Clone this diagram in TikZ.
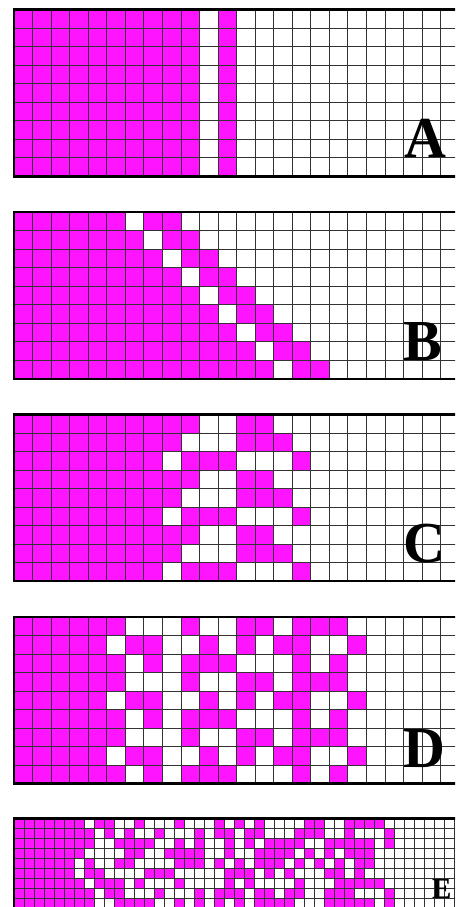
\documentclass[tikz,border=0pt]{standalone}
\usepackage{fontspec}
\setmainfont{Liberation Serif}
\definecolor{mag}{RGB}{255,20,255}
\tikzset{
  cellfill/.style={fill=mag},
  gl/.style={line width=0.9pt, draw=black!80},
  framebox/.style={line width=2.6pt, draw=black, line cap=butt},
  lettr/.style={inner sep=0pt, anchor=base west, font=\bfseries\fontsize{58}{58}\selectfont},
  lettrsmall/.style={inner sep=0pt, anchor=base west, font=\bfseries\fontsize{29}{29}\selectfont},
}
\begin{document}
\begin{tikzpicture}[x=1pt,y=-1pt]
\useasboundingbox (0,0) rectangle (455,907);
\clip (0,0) rectangle (455,907);
\fill[white] (0,0) rectangle (455,907);

% ---------- Panel A ----------
\begin{scope}[shift={(14pt,-9.5pt)},x=18.55pt,y=-18.55pt]
  \fill[cellfill] (0,0) rectangle (10,9);
  \fill[cellfill] (11,0) rectangle (12,9);
  \foreach \i in {1,...,24} \draw[gl] (\i,0) -- (\i,9);
  \foreach \j in {1,...,8} \draw[gl] (0,\j) -- (25,\j);
  \draw[framebox] (25,0) -- (0,0) -- (0,9) -- (25,9);
\end{scope}

% ---------- Panel B ----------
\begin{scope}[shift={(14pt,-212pt)},x=18.55pt,y=-18.55pt]
  \foreach \r in {0,...,8} {
    \fill[cellfill] (0,\r) rectangle (6+\r,\r+1);
    \fill[cellfill] (7+\r,\r) rectangle (9+\r,\r+1);
  }
  \foreach \i in {1,...,24} \draw[gl] (\i,0) -- (\i,9);
  \foreach \j in {1,...,8} \draw[gl] (0,\j) -- (25,\j);
  \draw[framebox] (25,0) -- (0,0) -- (0,9) -- (25,9);
\end{scope}

% ---------- Panel C ----------
\begin{scope}[shift={(14pt,-414.5pt)},x=18.55pt,y=-18.5pt]
  \foreach \r/\rng in {0/{0/9,12/13},1/{0/8,12/14},2/{0/7,9/11,15/15},
                       3/{0/9,12/13},4/{0/8,12/14},5/{0/7,9/11,15/15},
                       6/{0/9,12/13},7/{0/8,12/14},8/{0/7,9/11,15/15}} {
    \foreach \a/\b in \rng { \fill[cellfill] (\a,\r) rectangle (\b+1,\r+1); }
  }
  \foreach \i in {1,...,24} \draw[gl] (\i,0) -- (\i,9);
  \foreach \j in {1,...,8} \draw[gl] (0,\j) -- (25,\j);
  \draw[framebox] (25,0) -- (0,0) -- (0,9) -- (25,9);
\end{scope}

% ---------- Panel D ----------
\begin{scope}[shift={(14pt,-617pt)},x=18.55pt,y=-18.5pt]
  \foreach \r/\rng in {0/{0/5,9/9,12/13,15/17},1/{0/4,6/7,10/10,12/12,14/15,18/18},2/{0/5,7/7,9/11,15/15,17/17},
                       3/{0/5,9/9,12/13,15/17},4/{0/4,6/7,10/10,12/12,14/15,18/18},5/{0/5,7/7,9/11,15/15,17/17},
                       6/{0/5,9/9,12/13,15/17},7/{0/4,6/7,10/10,12/12,14/15,18/18},8/{0/5,7/7,9/11,15/15,17/17}} {
    \foreach \a/\b in \rng { \fill[cellfill] (\a,\r) rectangle (\b+1,\r+1); }
  }
  \foreach \i in {1,...,24} \draw[gl] (\i,0) -- (\i,9);
  \foreach \j in {1,...,8} \draw[gl] (0,\j) -- (25,\j);
  \draw[framebox] (25,0) -- (0,0) -- (0,9) -- (25,9);
\end{scope}

% ---------- Panel E ----------
\begin{scope}[shift={(14pt,-818.3pt)},x=10pt,y=-10pt]
  \foreach \r/\rng in {
      0/{0/6,8/9,12/12,16/16,20/20,22/22,24/24,29/30,33/36},
      1/{0/7,9/9,11/11,14/14,18/18,20/21,23/24,28/30,33/33,37/37},
      2/{0/7,10/13,16/16,18/18,21/21,23/23,25/28,31/35,37/37},
      3/{0/6,11/12,15/18,21/21,24/27,29/29,31/31,33/35},
      4/{0/5,7/7,10/11,16/18,20/20,22/22,24/26,28/28,30/30,32/32,34/35},
      5/{0/5,7/8,13/15,21/23,25/25,27/27,31/32,34/34},
      6/{0/6,8/10,12/12,16/16,21/21,23/23,28/28,32/36},
      7/{0/7,9/10,14/14,18/18,20/22,24/25,27/28,31/33,37/37},
      8/{0/7,10/13,16/16,18/18,20/20,22/22,24/27,31/35,37/37}} {
    \foreach \a/\b in \rng { \fill[cellfill] (\a,\r) rectangle (\b+1,\r+1); }
  }
  \foreach \i in {1,...,45} \draw[gl, line width=0.7pt] (\i,0) -- (\i,9.5);
  \foreach \j in {1,...,9} \draw[gl, line width=0.7pt] (0,\j) -- (46,\j);
  \draw[framebox] (46,0) -- (0,0) -- (0,9.5);
\end{scope}

% ---------- Labels ----------
\node[lettr] (la) at (404,157) {A};
\node[lettr] (lb) at (403,360) {B};
\node[lettr] (lc) at (403,562) {C};
\node[lettr] (ld) at (403,767) {D};
\node[lettrsmall] (le) at (432,898.5) {E};
\end{tikzpicture}
\end{document}
